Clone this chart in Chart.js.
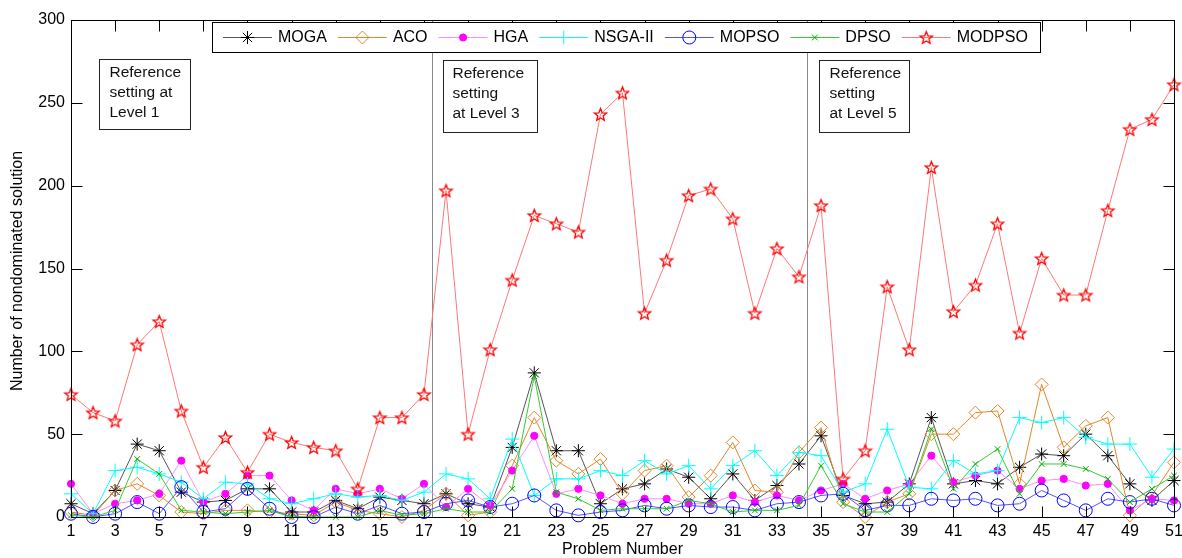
<!DOCTYPE html>
<html>
<head>
<meta charset="utf-8">
<script src="https://cdn.jsdelivr.net/npm/chart.js@4/dist/chart.umd.min.js"></script>
<style>
html,body{margin:0;padding:0;background:#fff;}
#wrap{width:1182px;height:558px;position:relative;}
</style>
</head>
<body>
<div id="wrap"><canvas id="c" width="1182" height="558"></canvas></div>
<script>
// ---------------- data ----------------
const problemNumbers = Array.from({length: 51}, (_, i) => i + 1);
const xTickLabels = [1,3,5,7,9,11,13,15,17,19,21,23,25,27,29,31,33,35,37,39,41,43,45,47,49,51];
const yTickLabels = [0,50,100,150,200,250,300];

const MOGA   = [8,2,16,44,40,15,9,10,17,17,3,3,10,5,12,10,8,14,8,6,42,87,40,40,8,17,20,29,24,11,26,10,19,32,49,13,8,9,20,60,20,22,20,30,38,37,50,37,20,10,22];
const ACO    = [3,1,16,20,13,3,2,4,4,3,2,1,9,4,2,0,4,14,1,3,31,60,34,26,35,14,28,31,12,25,45,16,15,39,54,9,0,9,14,50,50,63,64,20,80,42,55,60,1,13,33];
const HGA    = [20,2,8,10,14,34,9,14,25,25,10,4,17,14,17,11,20,6,17,7,28,49,14,17,13,8,11,11,8,8,13,9,13,10,16,20,11,16,20,37,21,25,28,17,22,23,19,20,4,11,10];
const NSGAII = [14,2,28,30,26,21,11,21,20,11,8,11,14,12,13,10,15,26,23,11,47,13,23,23,28,25,34,26,31,17,31,40,25,39,37,15,20,53,18,17,34,26,28,60,57,60,48,44,44,24,41];
const MOPSO  = [2,0,2,9,2,18,3,5,17,5,0,0,6,2,7,2,3,8,10,6,8,13,4,1,3,4,7,5,7,6,6,4,8,9,13,14,4,7,7,11,10,11,7,8,16,10,4,11,9,11,7];
const DPSO   = [1,0,4,35,26,4,3,2,3,4,0,0,0,0,4,1,2,5,3,3,17,85,15,11,4,5,5,5,10,8,3,4,4,7,31,8,3,3,14,53,17,32,41,14,32,32,29,23,9,17,25];
const MODPSO = [74,63,58,104,118,64,30,48,27,50,45,42,40,17,60,60,74,197,50,101,143,182,177,172,243,256,123,155,194,198,180,123,162,145,188,23,40,139,101,211,124,140,177,111,156,134,134,185,234,240,261];

const seriesNames = ['MOGA','ACO','HGA','NSGA-II','MOPSO','DPSO','MODPSO'];
const seriesValues = [MOGA, ACO, HGA, NSGAII, MOPSO, DPSO, MODPSO];

// level separators and notes (positions in data units)
const levelLines = [17.35, 34.35];
const notes = [
  {lines: ['Reference', 'setting at', 'Level 1'], x0: 2.27, x1: 6.41, yTop: 276.4, yBot: 234.0, pad: 10},
  {lines: ['Reference', 'setting', 'at Level 3'], x0: 17.85, x1: 22.11, yTop: 275.6, yBot: 232.4, pad: 9},
  {lines: ['Reference', 'setting', 'at Level 5'], x0: 34.92, x1: 38.99, yTop: 275.6, yBot: 232.4, pad: 10}
];

// ---------------- styles ----------------
const FONT = '"Liberation Sans", Arial, Helvetica, sans-serif';
Chart.defaults.font.family = FONT;
Chart.defaults.font.size = 16;
Chart.defaults.color = '#000';

function makeStar(color) {
  const s = 17, c = document.createElement('canvas');
  c.width = s; c.height = s;
  const g = c.getContext('2d');
  const R = 6.5, r = 2.8, cx = s / 2, cy = s / 2 + 0.6;
  g.beginPath();
  for (let i = 0; i < 10; i++) {
    const a = -Math.PI / 2 + i * Math.PI / 5;
    const rr = i % 2 === 0 ? R : r;
    const px = cx + rr * Math.cos(a), py = cy + rr * Math.sin(a);
    if (i === 0) g.moveTo(px, py); else g.lineTo(px, py);
  }
  g.closePath();
  g.strokeStyle = color; g.lineWidth = 1.3; g.stroke();
  return c;
}
const starImg = makeStar('#ff0000');

const styles = [
  {line: '#555555', pt: '#000000', fill: 'rgba(0,0,0,0)', style: 'star', r: 6.5, bw: 1},
  {line: '#E0882A', pt: '#E0882A', fill: 'rgba(0,0,0,0)', style: 'rectRot', r: 6.5, bw: 1},
  {line: '#FF8CFF', pt: '#FF00FF', fill: '#FF00FF', style: 'circle', r: 3.6, bw: 1},
  {line: '#00FFFF', pt: '#00FFFF', fill: 'rgba(0,0,0,0)', style: 'cross', r: 7, bw: 1},
  {line: '#5555FF', pt: '#0000FF', fill: 'rgba(0,0,0,0)', style: 'circle', r: 6.5, bw: 1},
  {line: '#33CC33', pt: '#00AA00', fill: 'rgba(0,0,0,0)', style: 'crossRot', r: 4, bw: 1},
  {line: '#FF7777', pt: '#FF0000', fill: 'rgba(0,0,0,0)', style: starImg, r: 7, bw: 1}
];

const datasets = seriesNames.map((name, i) => ({
  label: name,
  data: problemNumbers.map((p, k) => ({x: p, y: seriesValues[i][k]})),
  borderColor: styles[i].line,
  backgroundColor: styles[i].fill,
  borderWidth: 1,
  pointStyle: styles[i].style,
  pointRadius: styles[i].r,
  pointHoverRadius: styles[i].r,
  pointBorderColor: styles[i].pt,
  pointBackgroundColor: styles[i].fill,
  pointBorderWidth: styles[i].bw,
  tension: 0,
  fill: false,
  clip: false,
  order: seriesNames.length - i
}));

// ---------------- plugin for MATLAB-like frame ----------------
const framePlugin = {
  id: 'matlabFrame',
  beforeDatasetsDraw(chart) {
    const {ctx, chartArea: a, scales: {x}} = chart;
    ctx.save();
    ctx.strokeStyle = '#8a8a8a';
    ctx.lineWidth = 1;
    levelLines.forEach(v => {
      const px = Math.round(x.getPixelForValue(v)) + 0.5;
      ctx.beginPath(); ctx.moveTo(px, a.top); ctx.lineTo(px, a.bottom); ctx.stroke();
    });
    ctx.restore();
  },
  afterDraw(chart) {
    const {ctx, chartArea: a, scales: {x, y}} = chart;
    ctx.save();
    ctx.strokeStyle = '#000';
    ctx.lineWidth = 1;
    const L = Math.round(a.left) + 0.5, R = Math.round(a.right) + 0.5;
    const T = Math.round(a.top) + 0.5, B = Math.round(a.bottom) + 0.5;
    ctx.strokeRect(L, T, R - L, B - T);
    const tl = 11;
    ctx.beginPath();
    xTickLabels.forEach(v => {
      const px = Math.round(x.getPixelForValue(v)) + 0.5;
      ctx.moveTo(px, B); ctx.lineTo(px, B - tl);
      ctx.moveTo(px, T); ctx.lineTo(px, T + tl);
    });
    yTickLabels.forEach(v => {
      const py = Math.round(y.getPixelForValue(v)) + 0.5;
      ctx.moveTo(L, py); ctx.lineTo(L + tl, py);
      ctx.moveTo(R, py); ctx.lineTo(R - tl, py);
    });
    ctx.stroke();

    // notes
    ctx.font = '15.5px ' + FONT;
    ctx.textBaseline = 'middle';
    ctx.textAlign = 'left';
    notes.forEach(n => {
      const x0 = Math.round(x.getPixelForValue(n.x0)) + 0.5;
      const x1 = Math.round(x.getPixelForValue(n.x1)) + 0.5;
      const y0 = Math.round(y.getPixelForValue(n.yTop)) + 0.5;
      const y1 = Math.round(y.getPixelForValue(n.yBot)) + 0.5;
      ctx.fillStyle = '#fff';
      ctx.fillRect(x0, y0, x1 - x0, y1 - y0);
      ctx.strokeStyle = '#222';
      ctx.strokeRect(x0, y0, x1 - x0, y1 - y0);
      ctx.fillStyle = '#111';
      n.lines.forEach((t, k) => ctx.fillText(t, x0 + n.pad, y0 + 13.5 + k * 20));
    });

    // legend
    const lx0 = 212.5, ly0 = 22.5, lw = 828, lh = 30, yc = 37.5;
    ctx.fillStyle = '#fff';
    ctx.fillRect(lx0, ly0, lw, lh);
    ctx.strokeStyle = '#000';
    ctx.strokeRect(lx0, ly0, lw, lh);
    ctx.font = '16px ' + FONT;
    let cx = 223;
    chart.data.datasets.forEach(ds => {
      ctx.strokeStyle = ds.borderColor;
      ctx.lineWidth = 1;
      ctx.beginPath(); ctx.moveTo(cx, yc); ctx.lineTo(cx + 49, yc); ctx.stroke();
      ctx.strokeStyle = ds.pointBorderColor;
      ctx.fillStyle = ds.pointBackgroundColor;
      ctx.lineWidth = ds.pointBorderWidth;
      Chart.helpers.drawPoint(ctx, {pointStyle: ds.pointStyle, radius: ds.pointRadius, rotation: 0, borderWidth: ds.pointBorderWidth}, cx + 24.5, yc);
      ctx.fillStyle = '#000';
      ctx.fillText(ds.label, cx + 55, yc + 0.5);
      cx += 55 + ctx.measureText(ds.label).width + 11;
    });

    // axis titles
    ctx.fillStyle = '#000';
    ctx.font = '16px ' + FONT;
    ctx.textAlign = 'center';
    ctx.textBaseline = 'middle';
    ctx.fillText('Problem Number', (a.left + a.right) / 2, 550);
    ctx.save();
    ctx.translate(18, 271);
    ctx.rotate(-Math.PI / 2);
    ctx.fillText('Number of nondominated solution', 0, 0);
    ctx.restore();
    ctx.restore();
  }
};

new Chart(document.getElementById('c'), {
  type: 'line',
  data: {datasets},
  options: {
    responsive: false,
    animation: false,
    devicePixelRatio: 1,
    layout: {padding: {left: 0, right: 8, top: 20, bottom: 0}},
    plugins: {legend: {display: false}, tooltip: {enabled: false}, title: {display: false}},
    scales: {
      x: {
        type: 'linear',
        min: 1, max: 51,
        afterBuildTicks: s => { s.ticks = xTickLabels.map(v => ({value: v})); },
        afterFit: s => { s.height = 41; s.paddingLeft = 0; s.paddingRight = 0; },
        grid: {display: false, drawTicks: false},
        border: {display: false},
        ticks: {autoSkip: false, maxRotation: 0, padding: 5, font: {size: 16}, color: '#000'}
      },
      y: {
        type: 'linear',
        min: 0, max: 300,
        afterBuildTicks: s => { s.ticks = yTickLabels.map(v => ({value: v})); },
        afterFit: s => { s.width = 71; s.paddingTop = 0; s.paddingBottom = 0; },
        grid: {display: false, drawTicks: false},
        border: {display: false},
        ticks: {padding: 6, font: {size: 16}, color: '#000'}
      }
    }
  },
  plugins: [framePlugin]
});
</script>
</body>
</html>
